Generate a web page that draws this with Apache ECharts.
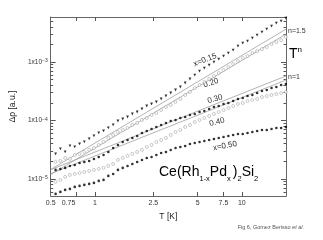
<!DOCTYPE html>
<html><head><meta charset="utf-8">
<script src="https://cdn.jsdelivr.net/npm/echarts@6/dist/echarts.min.js"></script>
<style>html,body{margin:0;padding:0;background:#fff}#c{width:323px;height:240px}</style>
</head><body><div id="c"></div>
<script>
// Temperatures (K) shared by all data series
const temps = [0.540,0.582,0.627,0.676,0.729,0.786,0.847,0.914,0.985,1.062,1.145,1.234,1.331,1.435,1.547,1.668,1.798,1.939,2.091,2.254,2.430,2.620,2.825,3.046,3.283,3.540,3.817,4.115,4.437,4.783,5.157,5.560,5.995,6.464,6.968,7.513,8.100,8.733,9.416,10.15,10.94,11.80,12.72,13.72,14.79,15.94,17.19,18.53,19.95];
// Delta rho (a.u.) per Pd concentration
const rhoX015 = [2.676e-5,3.257e-5,2.894e-5,3.665e-5,3.524e-5,3.966e-5,4.290e-5,4.828e-5,5.433e-5,6.113e-5,6.613e-5,7.443e-5,8.378e-5,9.806e-5,1.061e-4,1.148e-4,1.291e-4,1.397e-4,1.573e-4,1.770e-4,1.915e-4,2.071e-4,2.331e-4,2.623e-4,2.952e-4,3.322e-4,3.737e-4,4.375e-4,5.122e-4,5.995e-4,7.018e-4,7.897e-4,8.886e-4,1.000e-3,1.125e-3,1.266e-3,1.425e-3,1.604e-3,1.877e-3,2.113e-3,2.286e-3,2.572e-3,2.894e-3,3.257e-3,3.665e-3,4.124e-3,4.642e-3,5.023e-3,5.651e-3];
const rhoX020 = [1.953e-5,2.031e-5,2.286e-5,2.198e-5,2.572e-5,2.676e-5,2.894e-5,3.131e-5,3.388e-5,3.813e-5,4.290e-5,5.023e-5,5.651e-5,6.359e-5,6.881e-5,7.443e-5,8.378e-5,9.064e-5,1.020e-4,1.103e-4,1.242e-4,1.343e-4,1.512e-4,1.701e-4,1.841e-4,2.071e-4,2.331e-4,2.728e-4,3.070e-4,3.593e-4,4.044e-4,4.550e-4,5.122e-4,5.764e-4,6.486e-4,7.298e-4,8.214e-4,9.243e-4,1.040e-3,1.170e-3,1.266e-3,1.425e-3,1.542e-3,1.668e-3,1.805e-3,2.031e-3,2.198e-3,2.377e-3,2.676e-3];
const rhoX030 = [1.425e-5,1.482e-5,1.542e-5,1.668e-5,1.735e-5,1.877e-5,1.953e-5,2.031e-5,2.198e-5,2.377e-5,2.572e-5,2.894e-5,3.388e-5,3.813e-5,4.290e-5,4.642e-5,5.023e-5,5.433e-5,6.113e-5,6.613e-5,7.157e-5,7.743e-5,8.378e-5,9.064e-5,9.806e-5,1.020e-4,1.103e-4,1.148e-4,1.242e-4,1.291e-4,1.397e-4,1.453e-4,1.573e-4,1.701e-4,1.770e-4,1.915e-4,1.991e-4,2.154e-4,2.331e-4,2.424e-4,2.623e-4,2.728e-4,2.952e-4,3.193e-4,3.322e-4,3.593e-4,3.737e-4,4.044e-4,4.206e-4];
const rhoX040 = [8.886e-6,9.614e-6,1.082e-5,1.170e-5,1.217e-5,1.266e-5,1.317e-5,1.370e-5,1.425e-5,1.482e-5,1.542e-5,1.668e-5,1.805e-5,2.113e-5,2.286e-5,2.473e-5,2.676e-5,2.894e-5,3.131e-5,3.524e-5,3.813e-5,4.290e-5,4.642e-5,5.023e-5,5.651e-5,6.359e-5,6.881e-5,7.743e-5,8.378e-5,9.428e-5,1.020e-4,1.103e-4,1.194e-4,1.291e-4,1.397e-4,1.512e-4,1.636e-4,1.770e-4,1.915e-4,1.991e-4,2.154e-4,2.241e-4,2.331e-4,2.522e-4,2.623e-4,2.728e-4,2.838e-4,2.952e-4,3.070e-4];
const rhoX050 = [5.541e-6,5.995e-6,6.486e-6,6.746e-6,7.298e-6,7.592e-6,7.897e-6,8.214e-6,8.544e-6,9.243e-6,9.614e-6,1.125e-5,1.217e-5,1.425e-5,1.542e-5,1.668e-5,1.805e-5,1.953e-5,2.113e-5,2.286e-5,2.377e-5,2.572e-5,2.782e-5,2.894e-5,3.131e-5,3.388e-5,3.524e-5,3.665e-5,3.966e-5,4.124e-5,4.290e-5,4.463e-5,4.642e-5,4.828e-5,5.023e-5,5.223e-5,5.433e-5,5.651e-5,5.878e-5,5.878e-5,6.113e-5,6.359e-5,6.613e-5,6.881e-5,6.881e-5,7.157e-5,7.443e-5,7.443e-5,7.743e-5];
// T^n guide lines (endpoints)
const fitT = [0.5, 20];
const fitN15a = [1.45e-5, 3.66e-3];
const fitN15b = [1.19e-5, 3.01e-3];
const fitN1a = [1.44e-5, 5.77e-4];
const fitN1b = [1.23e-5, 4.92e-4];
// Axis ticks / labels
const xLabelValues = [0.5, 0.75, 1, 2.5, 5, 7.5, 10];
const xTickValues = [0.75, 1, 2.5, 5, 7.5, 10];
const yMajor = [1e-5, 1e-4, 1e-3];
const yMinor = [6e-6,7e-6,8e-6,9e-6,2e-5,3e-5,4e-5,5e-5,6e-5,7e-5,8e-5,9e-5,2e-4,3e-4,4e-4,5e-4,6e-4,7e-4,8e-4,9e-4,2e-3,3e-3,4e-3,5e-3];
const curveLabels = ['x=0.15','0.20','0.30','0.40','x=0.50'];

const FONT = 'Liberation Sans, Arial, sans-serif';
const pairs = vals => temps.map((t,i)=>[t, vals[i]]).filter(p=>p[1]!=null);
const linePairs = vals => fitT.map((t,i)=>[t, vals[i]]);

const XMIN=0.5, XMAX=20, YMIN=5.1e-6, YMAX=5.9e-3;
const axisCol = '#666';
function xAx(pos, labels){
  return {type:'log', min:XMIN, max:XMAX, position:pos,
    axisLine:{show:true, lineStyle:{color:axisCol, width:1}},
    axisTick:{show:true, inside:true, length:4, customValues:xTickValues, lineStyle:{color:'#555'}},
    axisLabel: labels ? {show:true, customValues:xLabelValues, fontSize:7, color:'#333', margin:4, fontFamily:FONT,
      formatter: v => (Math.abs(v-0.75)<1e-6 ? '{l|0.75}' : String(v)),
      rich:{l:{fontSize:7, color:'#333', fontFamily:FONT, padding:[0,16,0,0]}}} : {show:false},
    splitLine:{show:false}, minorTick:{show:false},
    name: labels ? 'T [K]' : '', nameLocation:'middle', nameGap:15,
    nameTextStyle:{fontSize:8.5, color:'#222', fontFamily:FONT}};
}
function yAx(pos, ticks, len, labels, line){
  return {type:'log', min:YMIN, max:YMAX, position:pos,
    axisLine:{show:line, lineStyle:{color:axisCol, width:1}},
    axisTick:{show:true, inside:true, length:len, customValues:ticks, lineStyle:{color:'#555'}},
    axisLabel: labels ? {show:true, customValues:yMajor, margin:3,
      formatter: v => '{m|1x10}{s|\u2212' + Math.abs(Math.round(Math.log10(v))) + '}',
      rich:{m:{fontSize:6.5, color:'#333', fontFamily:FONT, lineHeight:7, verticalAlign:'bottom', padding:[3,0,0,0]},
            s:{fontSize:5, color:'#333', fontFamily:FONT, lineHeight:5, verticalAlign:'top'}}} : {show:false},
    splitLine:{show:false}, minorTick:{show:false},
    name: labels ? 'Δρ [a.u.]' : '', nameLocation:'middle', nameGap:31,
    nameTextStyle:{fontSize:8.5, color:'#222', fontFamily:FONT}};
}

const chart = echarts.init(document.getElementById('c'), null, {renderer:'canvas'});
const lineStyle = {color:'#a0a0a0', width:0.8};
const openCircle = {color:'#fff', borderColor:'#8f8f8f', borderWidth:0.6};
chart.setOption({
  animation:false,
  backgroundColor:'#fff',
  grid:{left:40, top:17, right:37, bottom:44, containLabel:false},
  xAxis:[xAx('bottom', true), xAx('top', false)],
  yAxis:[yAx('left', yMajor, 5, true, true), yAx('left', yMinor, 2.5, false, false),
         yAx('right', yMajor, 5, false, true), yAx('right', yMinor, 2.5, false, false)],
  series:[
    {type:'line', data:linePairs(fitN15a), showSymbol:false, symbol:'none', lineStyle, z:1},
    {type:'line', data:linePairs(fitN15b), showSymbol:false, symbol:'none', lineStyle, z:1},
    {type:'line', data:linePairs(fitN1a), showSymbol:false, symbol:'none', lineStyle, z:1},
    {type:'line', data:linePairs(fitN1b), showSymbol:false, symbol:'none', lineStyle, z:1},
    {type:'scatter', data:pairs(rhoX015), symbol:'triangle', symbolRotate:180, symbolSize:2.8, itemStyle:{color:'#000'}, z:3},
    {type:'scatter', data:pairs(rhoX020), symbol:'circle', symbolSize:3, itemStyle:openCircle, z:2},
    {type:'scatter', data:pairs(rhoX030), symbol:'circle', symbolSize:2.6, itemStyle:{color:'#000'}, z:3},
    {type:'scatter', data:pairs(rhoX040), symbol:'circle', symbolSize:3, itemStyle:openCircle, z:2},
    {type:'scatter', data:pairs(rhoX050), symbol:'circle', symbolSize:2.6, itemStyle:{color:'#000'}, z:3}
  ],
  graphic:[
    {type:'text', x:205, y:60, rotation:0.38, style:{text:curveLabels[0], font:'8px '+FONT, fill:'#333', textAlign:'center', textVerticalAlign:'middle'}},
    {type:'text', x:211, y:83, rotation:0.33, style:{text:curveLabels[1], font:'8px '+FONT, fill:'#333', textAlign:'center', textVerticalAlign:'middle'}},
    {type:'text', x:215, y:99, rotation:0.28, style:{text:curveLabels[2], font:'8px '+FONT, fill:'#333', textAlign:'center', textVerticalAlign:'middle'}},
    {type:'text', x:217, y:122, rotation:0.25, style:{text:curveLabels[3], font:'8px '+FONT, fill:'#333', textAlign:'center', textVerticalAlign:'middle'}},
    {type:'text', x:225, y:146, rotation:0.2, style:{text:curveLabels[4], font:'8px '+FONT, fill:'#333', textAlign:'center', textVerticalAlign:'middle'}},
    {type:'text', x:288, y:31, style:{text:'n=1.5', font:'7px '+FONT, fill:'#333', textAlign:'left', textVerticalAlign:'middle'}},
    {type:'text', x:288, y:77, style:{text:'n=1', font:'7px '+FONT, fill:'#333', textAlign:'left', textVerticalAlign:'middle'}},
    {type:'text', x:289, y:46, style:{text:'{m|T}{s|n}', textAlign:'left', textVerticalAlign:'top',
      rich:{m:{fontSize:14, fontFamily:FONT, color:'#222', lineHeight:15, verticalAlign:'bottom', padding:[3,0,0,0]},
            s:{fontSize:8, fontFamily:FONT, color:'#222', lineHeight:8, verticalAlign:'top'}}}},
    {type:'text', x:159, y:165, style:{text:'{m|Ce(Rh}{s|1-x}{m|Pd}{s|x }{m|)}{s|2}{m|Si}{s|2}', textAlign:'left', textVerticalAlign:'top',
      rich:{m:{fontSize:14, fontFamily:FONT, color:'#222', lineHeight:15, verticalAlign:'top'},
            s:{fontSize:7.5, fontFamily:FONT, color:'#222', lineHeight:8, verticalAlign:'top', padding:[10,0,0,0]}}}},
    {type:'text', x:304, y:227, style:{text:'Fig 6, Gomez Berisso {i|et al.}', textAlign:'right', textVerticalAlign:'middle',
      font:'5.5px '+FONT, fill:'#555', rich:{i:{fontSize:5.5, fontStyle:'italic', fontFamily:FONT, color:'#555'}}}}
  ]
});
</script></body></html>
